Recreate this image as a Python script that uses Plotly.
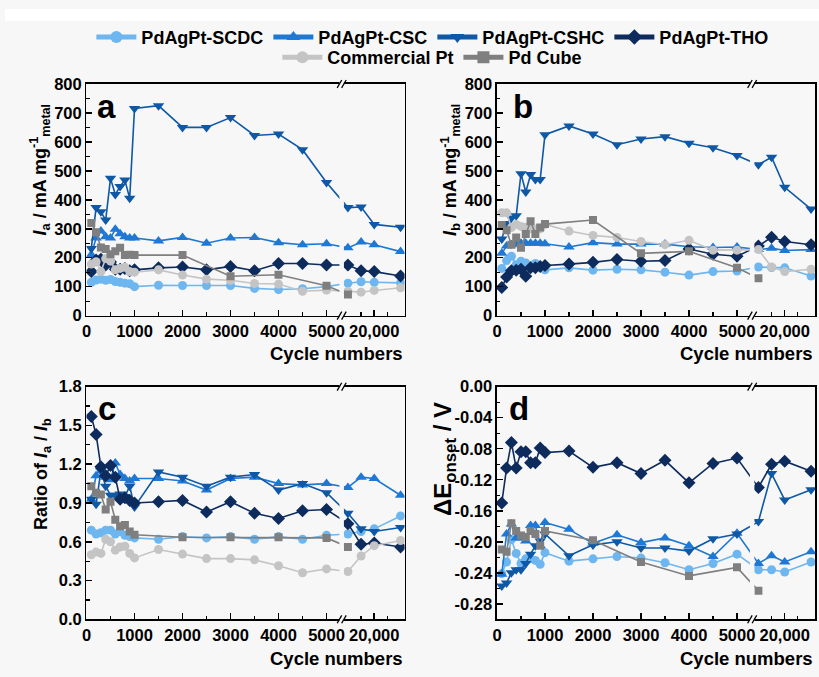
import plotly.graph_objects as go

W, H = 819, 677
FONT = "Liberation Sans"
BG = "#f7f7f7"

# ---------------- data ----------------
CYCLES = [100, 200, 300, 400, 500, 600, 700, 800, 900, 1000,
          1500, 2000, 2500, 3000, 3500, 4000, 4500, 5000,
          15000, 17500, 20000, 25000]
CYCLES_PD = [100, 200, 300, 400, 500, 600, 700, 800, 900, 1000,
             2000, 3000, 4000, 5000, 15000]

NAMES = ["PdAgPt-SCDC", "PdAgPt-CSC", "PdAgPt-CSHC", "PdAgPt-THO", "Commercial Pt", "Pd Cube"]

# (a) Ia / mA mg-1
IA_SCDC = [115, 123, 126, 122, 125, 118, 115, 112, 110, 100, 105, 104, 104, 104, 94, 90, 93, 100, 112, 117, 115, 113]
IA_CSC = [210, 268, 292, 272, 268, 298, 283, 272, 268, 268, 258, 270, 250, 268, 270, 252, 245, 248, 234, 254, 245, 221]
IA_CSHC = [232, 373, 359, 330, 474, 418, 446, 468, 405, 715, 725, 650, 650, 684, 622, 627, 573, 460, 373, 375, 315, 305]
IA_THO = [152, 192, 195, 175, 185, 160, 160, 163, 155, 158, 165, 168, 158, 170, 155, 180, 180, 175, 175, 155, 152, 137]
IA_PT = [178, 186, 152, 197, 188, 158, 163, 167, 152, 150, 158, 140, 126, 122, 111, 109, 84, 88, 84, 81, 87, 96]
IA_PD = [320, 288, 235, 230, 212, 222, 234, 209, 210, 209, 209, 136, 141, 103, 73]

# (b) Ib / mA mg-1
IB_SCDC = [163, 190, 205, 176, 188, 182, 172, 180, 168, 158, 165, 157, 160, 158, 150, 140, 152, 154, 168, 166, 165, 137]
IB_CSC = [215, 240, 245, 248, 250, 250, 250, 250, 250, 248, 237, 252, 247, 247, 247, 238, 235, 237, 228, 233, 225, 228]
IB_CSHC = [265, 318, 337, 345, 490, 427, 487, 470, 470, 625, 655, 627, 590, 610, 618, 595, 580, 553, 521, 547, 443, 368]
IB_THO = [97, 133, 155, 157, 160, 136, 165, 165, 170, 173, 178, 184, 194, 188, 190, 230, 212, 205, 240, 271, 256, 245]
IB_PT = [355, 355, 304, 315, 308, 305, 300, 298, 300, 315, 292, 277, 270, 256, 245, 260, 226, 226, 228, 168, 152, 160]
IB_PD = [313, 295, 245, 270, 234, 282, 326, 282, 304, 316, 330, 215, 222, 165, 129]

# (c) Ia / Ib
R_SCDC = [0.69, 0.66, 0.67, 0.69, 0.69, 0.66, 0.68, 0.65, 0.64, 0.63, 0.62, 0.64, 0.63, 0.64, 0.62, 0.64, 0.62, 0.65, 0.66, 0.68, 0.70, 0.80]
R_CSC = [0.93, 1.11, 1.18, 1.10, 1.08, 1.21, 1.12, 1.09, 1.07, 1.09, 1.09, 1.07, 1.00, 1.09, 1.10, 1.05, 1.04, 1.05, 1.02, 1.10, 1.09, 0.96]
R_CSHC = [0.93, 0.89, 1.15, 1.03, 0.96, 0.96, 0.97, 0.95, 1.03, 0.87, 1.14, 1.10, 1.03, 1.10, 1.12, 1.00, 1.05, 0.98, 0.82, 0.70, 0.68, 0.71]
R_THO = [1.57, 1.43, 1.18, 1.11, 1.19, 1.10, 0.93, 0.94, 0.92, 0.90, 0.91, 0.92, 0.83, 0.91, 0.82, 0.78, 0.84, 0.85, 0.74, 0.58, 0.59, 0.56]
R_PT = [0.50, 0.52, 0.51, 0.62, 0.60, 0.535, 0.56, 0.565, 0.51, 0.475, 0.54, 0.505, 0.47, 0.47, 0.46, 0.415, 0.36, 0.39, 0.37, 0.49, 0.57, 0.61]
R_PD = [1.03, 0.98, 0.965, 0.85, 0.91, 0.77, 0.72, 0.73, 0.68, 0.655, 0.635, 0.635, 0.635, 0.63, 0.56]

# (d) dE onset / V
D_SCDC = [-0.241, -0.226, -0.197, -0.215, -0.228, -0.222, -0.222, -0.224, -0.229, -0.214, -0.225, -0.222, -0.219, -0.221, -0.227, -0.236, -0.228, -0.216, -0.236, -0.236, -0.239, -0.226]
D_CSC = [-0.242, -0.190, -0.177, -0.195, -0.195, -0.199, -0.179, -0.179, -0.205, -0.175, -0.184, -0.202, -0.191, -0.201, -0.195, -0.205, -0.219, -0.189, -0.228, -0.218, -0.226, -0.213]
D_CSHC = [-0.257, -0.253, -0.240, -0.236, -0.236, -0.228, -0.216, -0.205, -0.199, -0.190, -0.218, -0.204, -0.200, -0.208, -0.208, -0.212, -0.196, -0.190, -0.174, -0.112, -0.146, -0.133]
D_THO = [-0.150, -0.105, -0.072, -0.105, -0.084, -0.084, -0.098, -0.098, -0.079, -0.085, -0.083, -0.104, -0.098, -0.112, -0.095, -0.124, -0.099, -0.092, -0.130, -0.100, -0.096, -0.109]
D_PD = [-0.210, -0.213, -0.176, -0.186, -0.192, -0.194, -0.186, -0.190, -0.205, -0.186, -0.198, -0.226, -0.244, -0.233, -0.263]

# ticks
X_TICK_CYCLES = [0, 1000, 2000, 3000, 4000, 5000, 20000]
X_TICK_TEXT = ["0", "1000", "2000", "3000", "4000", "5000", "20,000"]
X_MINOR_CYCLES = [500, 1500, 2500, 3500, 4500, 17500, 22500]
Y_AB_TICKS = [0, 100, 200, 300, 400, 500, 600, 700, 800]
Y_AB_TEXT = ["0", "100", "200", "300", "400", "500", "600", "700", "800"]
Y_C_TICKS = [0.0, 0.3, 0.6, 0.9, 1.2, 1.5, 1.8]
Y_C_TEXT = ["0.0", "0.3", "0.6", "0.9", "1.2", "1.5", "1.8"]
Y_D_TICKS = [0.0, -0.04, -0.08, -0.12, -0.16, -0.20, -0.24, -0.28]
Y_D_TEXT = ["0.00", "-0.04", "-0.08", "-0.12", "-0.16", "-0.20", "-0.24", "-0.28"]

# ---------------- style ----------------
COLORS = {"PdAgPt-SCDC": "#6db6ef", "PdAgPt-CSC": "#1f78d3", "PdAgPt-CSHC": "#0e58a5",
          "PdAgPt-THO": "#0d2b5c", "Commercial Pt": "#c4c4c4", "Pd Cube": "#7f7f7f"}
SYMBOLS = {"PdAgPt-SCDC": "circle", "PdAgPt-CSC": "triangle-up", "PdAgPt-CSHC": "triangle-down",
           "PdAgPt-THO": "diamond", "Commercial Pt": "circle", "Pd Cube": "square"}
SIZES = {"PdAgPt-SCDC": 9, "PdAgPt-CSC": 10, "PdAgPt-CSHC": 10,
         "PdAgPt-THO": 10, "Commercial Pt": 9, "Pd Cube": 8}

# broken axis: cycles <= 5000 linear, the 15000-25000 block compressed to the right
PX_PER_CYCLE = 0.0483
U20 = 5994.0
RIGHT_SCALE = 0.1097
X_MAX = 320 / PX_PER_CYCLE


def tx(c):
    return c if c < 10000 else U20 + (c - 20000) * RIGHT_SCALE


def px2u(p):
    return p / PX_PER_CYCLE


GAP = (px2u(254.5), px2u(259.0))
SLASHES = [(px2u(252.2), px2u(256.8)), (px2u(256.7), px2u(261.3))]

PANELS = [
    dict(xa="x", ya="y", xdom=(82, 402), ydom=(77, 315), rng=[0, 800], tv=Y_AB_TICKS, tt=Y_AB_TEXT, mdt=50,
         data={"PdAgPt-SCDC": IA_SCDC, "PdAgPt-CSC": IA_CSC, "PdAgPt-CSHC": IA_CSHC, "PdAgPt-THO": IA_THO,
               "Commercial Pt": IA_PT, "Pd Cube": IA_PD}),
    dict(xa="x2", ya="y2", xdom=(495, 815), ydom=(77, 315), rng=[0, 800], tv=Y_AB_TICKS, tt=Y_AB_TEXT, mdt=50,
         data={"PdAgPt-SCDC": IB_SCDC, "PdAgPt-CSC": IB_CSC, "PdAgPt-CSHC": IB_CSHC, "PdAgPt-THO": IB_THO,
               "Commercial Pt": IB_PT, "Pd Cube": IB_PD}),
    dict(xa="x3", ya="y3", xdom=(82, 402), ydom=(388, 627), rng=[0, 1.8], tv=Y_C_TICKS, tt=Y_C_TEXT, mdt=0.15,
         data={"PdAgPt-SCDC": R_SCDC, "PdAgPt-CSC": R_CSC, "PdAgPt-CSHC": R_CSHC, "PdAgPt-THO": R_THO,
               "Commercial Pt": R_PT, "Pd Cube": R_PD}),
    dict(xa="x4", ya="y4", xdom=(495, 815), ydom=(388, 627), rng=[-0.30, 0.0], tv=Y_D_TICKS, tt=Y_D_TEXT, mdt=0.02,
         data={"PdAgPt-SCDC": D_SCDC, "PdAgPt-CSC": D_CSC, "PdAgPt-CSHC": D_CSHC, "PdAgPt-THO": D_THO,
               "Pd Cube": D_PD}),
]

fig = go.Figure()

for pi, p in enumerate(PANELS):
    for name in NAMES:
        vals = p["data"].get(name)
        if vals is None:
            continue
        cyc = CYCLES_PD if name == "Pd Cube" else CYCLES
        fig.add_trace(go.Scatter(
            x=[tx(c) for c in cyc], y=vals, xaxis=p["xa"], yaxis=p["ya"],
            mode="lines+markers", name=name,
            legend="legend" if name in NAMES[:4] else "legend2",
            showlegend=(pi == 0),
            line=dict(color=COLORS[name], width=1.6),
            marker=dict(symbol=SYMBOLS[name], size=SIZES[name], color=COLORS[name], line=dict(width=0)),
        ))

tickfont = dict(family=FONT, size=16.5, color="black", weight="bold")
layout = {}
shapes = []
for i, p in enumerate(PANELS):
    sfx = "" if i == 0 else str(i + 1)
    xd = [p["xdom"][0] / W, p["xdom"][1] / W]
    yd = [1 - p["ydom"][1] / H, 1 - p["ydom"][0] / H]
    layout["xaxis" + sfx] = dict(
        domain=xd, anchor=p["ya"], range=[0, X_MAX], tickmode="array",
        tickvals=[tx(c) for c in X_TICK_CYCLES], ticktext=X_TICK_TEXT, tickangle=0,
        ticks="inside", ticklen=6, tickwidth=1.5, tickcolor="black",
        minor=dict(tickvals=[tx(c) for c in X_MINOR_CYCLES], ticks="inside", ticklen=3.5,
                   tickwidth=1.2, tickcolor="black"),
        showline=True, linecolor="black", linewidth=1.5, mirror=True,
        showgrid=False, zeroline=False, tickfont=tickfont)
    layout["yaxis" + sfx] = dict(
        domain=yd, anchor=p["xa"], range=p["rng"], tickmode="array",
        tickvals=p["tv"], ticktext=p["tt"],
        ticks="inside", ticklen=6, tickwidth=1.5, tickcolor="black",
        minor=dict(dtick=p["mdt"], tick0=0, ticks="inside", ticklen=3.5, tickwidth=1.2, tickcolor="black"),
        showline=True, linecolor="black", linewidth=1.5, mirror=True,
        showgrid=False, zeroline=False, tickfont=tickfont)
    xr = p["xa"]
    yr = p["ya"] + " domain"
    shapes.append(dict(type="rect", xref=xr, yref=yr, x0=GAP[0], x1=GAP[1], y0=-0.03, y1=1.03,
                       fillcolor=BG, line=dict(width=0), layer="above"))
    for yb in (0.0, 1.0):
        for (s0, s1) in SLASHES:
            shapes.append(dict(type="line", xref=xr, yref=yr, x0=s0, x1=s1, y0=yb - 0.017, y1=yb + 0.017,
                               line=dict(color="black", width=1.3), layer="above"))

shapes.append(dict(type="rect", xref="paper", yref="paper", x0=0, x1=1, y0=1 - 12 / H, y1=1,
                   fillcolor="white", line=dict(width=0), layer="below"))

ann = []
def add_text(text, xpx, ypx, size, angle=0, xanchor="center"):
    ann.append(dict(text=text, x=xpx / W, y=1 - ypx / H, xref="paper", yref="paper",
                    showarrow=False, textangle=angle, xanchor=xanchor, yanchor="middle",
                    font=dict(family=FONT, size=size, color="black", weight="bold")))

for letter, xp, yp in (("a", 102, 100), ("b", 521, 100), ("c", 103, 410), ("d", 517, 410)):
    add_text(letter, xp, yp, 33)
add_text("<i>I</i><sub>a</sub> / mA mg<sup>-1</sup><sub>metal</sub>", 35, 165, 18, -90)
add_text("<i>I</i><sub>b</sub> / mA mg<sup>-1</sup><sub>metal</sub>", 448, 165, 18, -90)
add_text("Ratio of <i>I</i><sub>a</sub> / <i>I</i><sub>b</sub>", 38, 478, 18, -90)
add_text("ΔE<sub>onset</sub> / V", 442, 462, 24, -90)
for xp, yp in ((402, 354), (815, 354), (402, 667), (815, 667)):
    add_text("Cycle numbers", xp, yp, 18.5, 0, "right")

legfont = dict(family=FONT, size=18, color="black", weight="bold")
fig.update_layout(
    width=W, height=H, autosize=False,
    margin=dict(l=0, r=0, t=0, b=0),
    paper_bgcolor=BG, plot_bgcolor=BG,
    font=dict(family=FONT, color="black"),
    shapes=shapes, annotations=ann,
    legend=dict(orientation="h", x=430 / W, xanchor="center", y=1 - 29 / H, yanchor="middle",
                font=legfont, itemwidth=40, itemsizing="constant", bgcolor="rgba(0,0,0,0)"),
    legend2=dict(orientation="h", x=430 / W, xanchor="center", y=1 - 50 / H, yanchor="middle",
                 font=legfont, itemwidth=40, itemsizing="constant", bgcolor="rgba(0,0,0,0)"),
    **layout,
)

fig.write_html("out.html", config=dict(staticPlot=True, displayModeBar=False),
               post_script="document.body.style.margin='0px';document.body.style.overflow='hidden';")
